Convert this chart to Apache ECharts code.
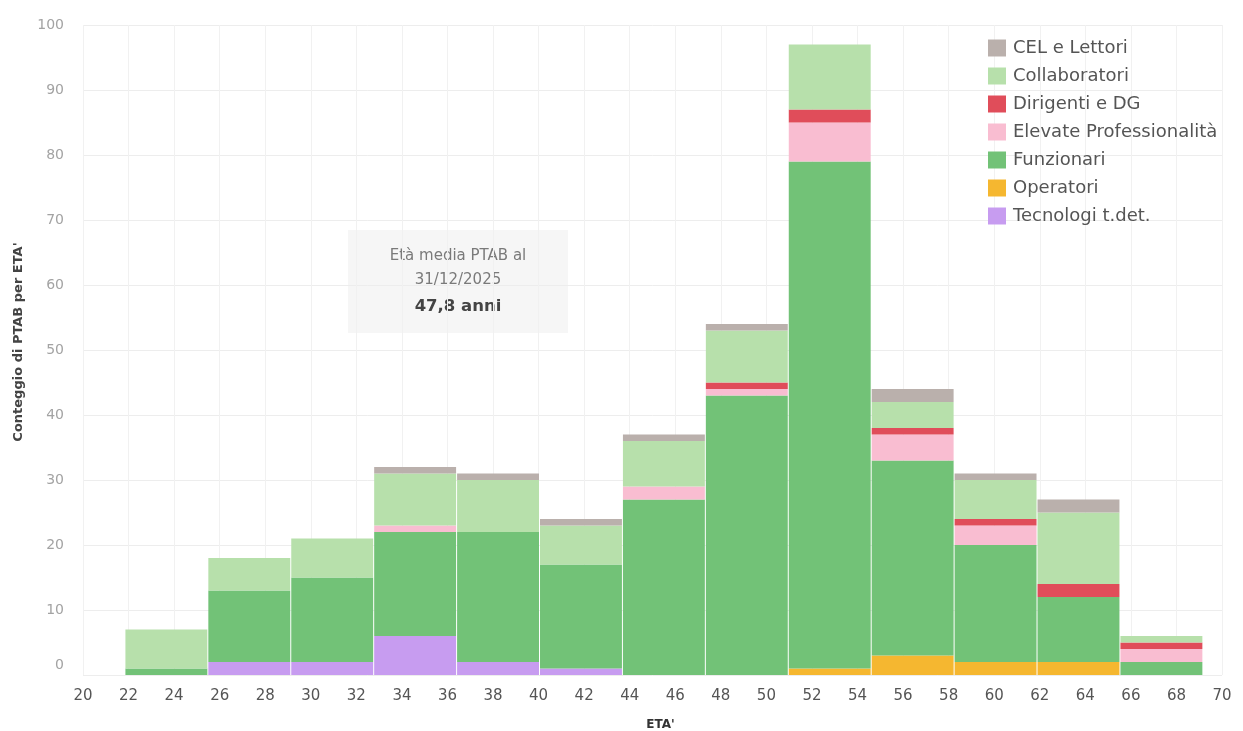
<!DOCTYPE html>
<html>
<head>
<meta charset="utf-8">
<script src="https://cdn.jsdelivr.net/npm/echarts@6/dist/echarts.min.js"></script>
<style>
  html, body { margin: 0; padding: 0; background: #ffffff; }
  #chart { width: 1243px; height: 731px; }
</style>
</head>
<body>
<div id="chart"></div>
<script>
// Age bins (lower bound of each bin, years) and bin width
const binStarts = [21.84, 25.48, 29.12, 32.76, 36.4, 40.04, 43.68, 47.32, 50.96, 54.6, 58.24, 61.88, 65.52];
const binWidth = 3.64;

// Staff counts per bin, by category
const tecnologi     = [0, 2, 2, 6, 2, 1, 0, 0, 0, 0, 0, 0, 0];
const operatori     = [0, 0, 0, 0, 0, 0, 0, 0, 1, 3, 2, 2, 0];
const funzionari    = [1, 11, 13, 16, 20, 16, 27, 43, 78, 30, 18, 10, 2];
const elevateProf   = [0, 0, 0, 1, 0, 0, 2, 1, 6, 4, 3, 0, 2];
const dirigenti     = [0, 0, 0, 0, 0, 0, 0, 1, 2, 1, 1, 2, 1];
const collaboratori = [6, 5, 6, 8, 8, 6, 7, 8, 10, 4, 6, 11, 1];
const celLettori    = [0, 0, 0, 1, 1, 1, 1, 1, 0, 2, 1, 2, 0];

const xTicks = { min: 20, max: 70, step: 2 };
const yTicks = { min: 0, max: 100, step: 10 };

const avgLines = ['Età media PTAB al', '31/12/2025'];
const avgValue = '47,8 anni';

// Stack order, bottom to top
const layers = [
  { name: 'Tecnologi t.det.', values: tecnologi, color: '#c79cf0' },
  { name: 'Operatori', values: operatori, color: '#f5b730' },
  { name: 'Funzionari', values: funzionari, color: '#72c277' },
  { name: 'Elevate Professionalità', values: elevateProf, color: '#f9bdd1' },
  { name: 'Dirigenti e DG', values: dirigenti, color: '#e04d5a' },
  { name: 'Collaboratori', values: collaboratori, color: '#b7e0ab' },
  { name: 'CEL e Lettori', values: celLettori, color: '#bab0ac' }
];

const FONT = '"DejaVu Sans", "Noto Sans", sans-serif';

const base = binStarts.map(() => 0);
const series = layers.map(layer => {
  const data = layer.values.map((v, i) => {
    const item = [binStarts[i], binStarts[i] + binWidth, base[i], base[i] + v];
    base[i] += v;
    return item;
  });
  return {
    type: 'custom',
    name: layer.name,
    itemStyle: { color: layer.color },
    encode: { x: [0, 1], y: [2, 3] },
    data: data,
    renderItem: function (params, api) {
      if (api.value(3) - api.value(2) <= 0) return null;
      const lo = api.coord([api.value(0), api.value(2)]);
      const hi = api.coord([api.value(1), api.value(3)]);
      return {
        type: 'rect',
        shape: { x: lo[0] + 0.5, y: hi[1], width: hi[0] - lo[0] - 1, height: lo[1] - hi[1] },
        style: { fill: layer.color }
      };
    }
  };
});

const legendOrder = layers.map(l => l.name).reverse();

const chart = echarts.init(document.getElementById('chart'), null, { renderer: 'canvas' });
chart.setOption({
  animation: false,
  backgroundColor: '#ffffff',
  textStyle: { fontFamily: FONT },
  grid: { left: 83, right: 21, top: 25, bottom: 56, containLabel: false, outerBoundsMode: 'none' },
  legend: {
    data: legendOrder,
    orient: 'vertical',
    left: 983,
    top: 34,
    itemWidth: 18,
    itemHeight: 17,
    itemGap: 10,
    icon: 'rect',
    textStyle: { fontFamily: FONT, fontSize: 18, color: '#555555', padding: [0, 0, 0, 2] }
  },
  xAxis: {
    type: 'value',
    min: xTicks.min,
    max: xTicks.max,
    interval: xTicks.step,
    name: "ETA'",
    nameLocation: 'middle',
    nameGap: 44,
    nameTextStyle: { fontFamily: FONT, fontSize: 12, fontWeight: 'bold', color: '#333333', padding: [0, 0, 0, 16] },
    axisLine: { show: false },
    axisTick: { show: false },
    axisLabel: { fontFamily: FONT, fontSize: 15, color: '#555555', margin: 14 },
    splitLine: { show: true, lineStyle: { color: '#f1f1f1', width: 1 } }
  },
  yAxis: {
    type: 'value',
    min: yTicks.min,
    max: yTicks.max,
    interval: yTicks.step,
    name: "Conteggio di PTAB per ETA'",
    nameLocation: 'middle',
    nameGap: 58,
    nameRotate: 90,
    nameTextStyle: { fontFamily: FONT, fontSize: 13, fontWeight: 'bold', color: '#444444', padding: [0, 0, 0, 16] },
    axisLine: { show: false },
    axisTick: { show: false },
    axisLabel: {
      fontFamily: FONT,
      fontSize: 14,
      color: '#a3a3a3',
      margin: 19,
      formatter: v => (v === 0 ? '{z|0}' : String(v)),
      rich: { z: { fontFamily: FONT, fontSize: 14, color: '#a3a3a3', padding: [0, 0, 20, 0] } }
    },
    splitLine: { show: true, lineStyle: { color: '#ededed', width: 1 } }
  },
  graphic: [
    {
      type: 'group',
      left: 348,
      top: 230,
      children: [
        { type: 'rect', shape: { x: 0, y: 0, width: 220, height: 103 }, style: { fill: '#f6f6f6' } },
        {
          type: 'text', x: 110, y: 26,
          style: { text: avgLines[0], font: '15px ' + FONT, fill: '#7a7a7a', align: 'center', verticalAlign: 'middle' }
        },
        {
          type: 'text', x: 110, y: 50,
          style: { text: avgLines[1], font: '15px ' + FONT, fill: '#7a7a7a', align: 'center', verticalAlign: 'middle' }
        },
        {
          type: 'text', x: 110, y: 77,
          style: { text: avgValue, font: 'bold 16.5px ' + FONT, fill: '#444444', align: 'center', verticalAlign: 'middle' }
        }
      ]
    }
  ],
  series: series
});
</script>
</body>
</html>
